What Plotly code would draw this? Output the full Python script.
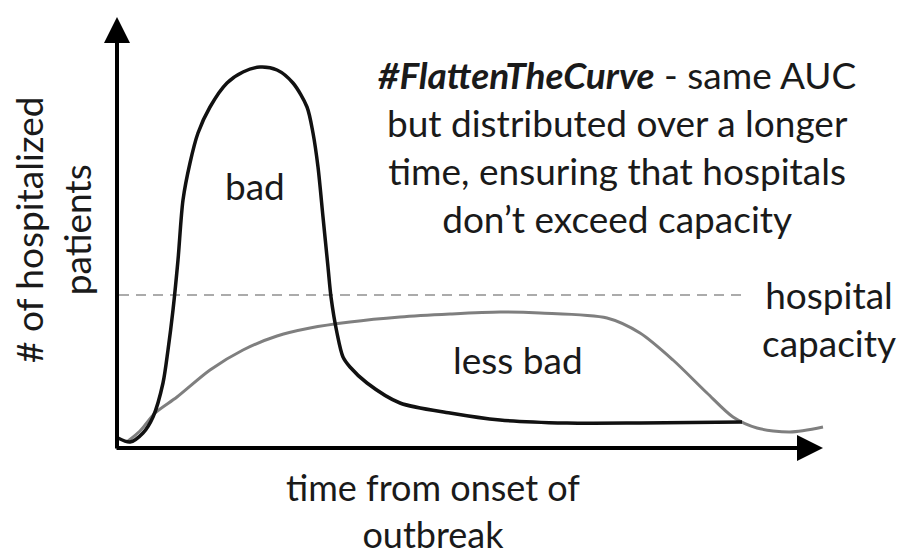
import plotly.graph_objects as go

# Values (time units, patients units; origin at axes corner)
bad_time = [1, 13, 26, 36, 46, 51, 56, 61, 66, 73, 81, 93, 110, 126, 143, 160, 176, 190,
            196, 201, 206, 211, 214, 220, 226, 233, 250, 283, 333, 383, 450, 523, 625]
bad_patients = [10, 6, 15, 31, 65, 98, 138, 188, 248, 285, 315, 341, 365, 376, 381, 378,
                365, 341, 315, 281, 231, 181, 151, 115, 91, 81, 65, 45, 35, 28, 25, 25, 26]

less_time = [11, 23, 38, 60, 93, 126, 160, 193, 233, 283, 333, 383, 423, 490, 523, 556,
             590, 616, 640, 673, 706]
less_patients = [7, 17, 35, 51, 78, 98, 112, 120, 126, 131, 134, 136, 135, 130, 115, 88,
                 55, 31, 20, 16, 21]

capacity_level = 153
capacity_span = [2, 630]

axis_x_end = 706
axis_y_end = 431

FONT = "Lato"
TXT = "#1a1a1a"
FS = 37

fig = go.Figure()

fig.add_trace(go.Scatter(
    x=capacity_span, y=[capacity_level, capacity_level], mode="lines",
    line=dict(color="#ababab", width=2, dash="10px,7px"), hoverinfo="skip"))

fig.add_trace(go.Scatter(
    x=less_time, y=less_patients, mode="lines", line_shape="spline",
    line=dict(color="#7f7f7f", width=3, smoothing=0.8), hoverinfo="skip"))

fig.add_trace(go.Scatter(
    x=bad_time, y=bad_patients, mode="lines", line_shape="spline",
    line=dict(color="#111111", width=3.5, smoothing=0.8), hoverinfo="skip"))

annotations = [
    # axes with arrowheads
    dict(x=0, y=axis_y_end, ax=0, ay=-2, xref="x", yref="y", axref="x", ayref="y",
         text="", showarrow=True, arrowhead=2, arrowsize=1.3, arrowwidth=4,
         arrowcolor="#000000", standoff=0),
    dict(x=axis_x_end, y=0, ax=-2, ay=0, xref="x", yref="y", axref="x", ayref="y",
         text="", showarrow=True, arrowhead=2, arrowsize=1.3, arrowwidth=4,
         arrowcolor="#000000", standoff=0),
    dict(x=138, y=263, xref="x", yref="y", text="bad", showarrow=False,
         font=dict(family=FONT, size=FS, color=TXT)),
    dict(x=401, y=89, xref="x", yref="y", text="less bad", showarrow=False,
         font=dict(family=FONT, size=FS, color=TXT)),
    dict(x=712, y=130, xref="x", yref="y", text="hospital<br>capacity", showarrow=False,
         align="center", font=dict(family=FONT, size=FS, color=TXT)),
    dict(x=500, y=302, xref="x", yref="y",
         text="<b><i>#FlattenTheCurve</i></b> - same AUC<br>but distributed over a longer"
              "<br>time, ensuring that hospitals<br>don\u2019t exceed capacity",
         showarrow=False, align="center", font=dict(family=FONT, size=FS, color=TXT)),
    dict(x=316, y=-62, xref="x", yref="y", text="time from onset of<br>outbreak",
         showarrow=False, align="center", font=dict(family=FONT, size=36, color=TXT)),
    dict(x=-65, y=218, xref="x", yref="y", text="# of hospitalized<br>patients",
         textangle=-90, showarrow=False, align="center",
         font=dict(family=FONT, size=FS, color=TXT)),
]

fig.update_layout(
    width=902, height=552,
    margin=dict(l=0, r=0, t=0, b=0),
    paper_bgcolor="white", plot_bgcolor="white",
    showlegend=False,
    xaxis=dict(range=[-117, 785], visible=False, fixedrange=True),
    yaxis=dict(range=[-104, 448], visible=False, fixedrange=True),
    annotations=annotations,
)

fig.write_html("out.html", config={"displayModeBar": False},
               post_script="document.body.style.margin='0px';")
